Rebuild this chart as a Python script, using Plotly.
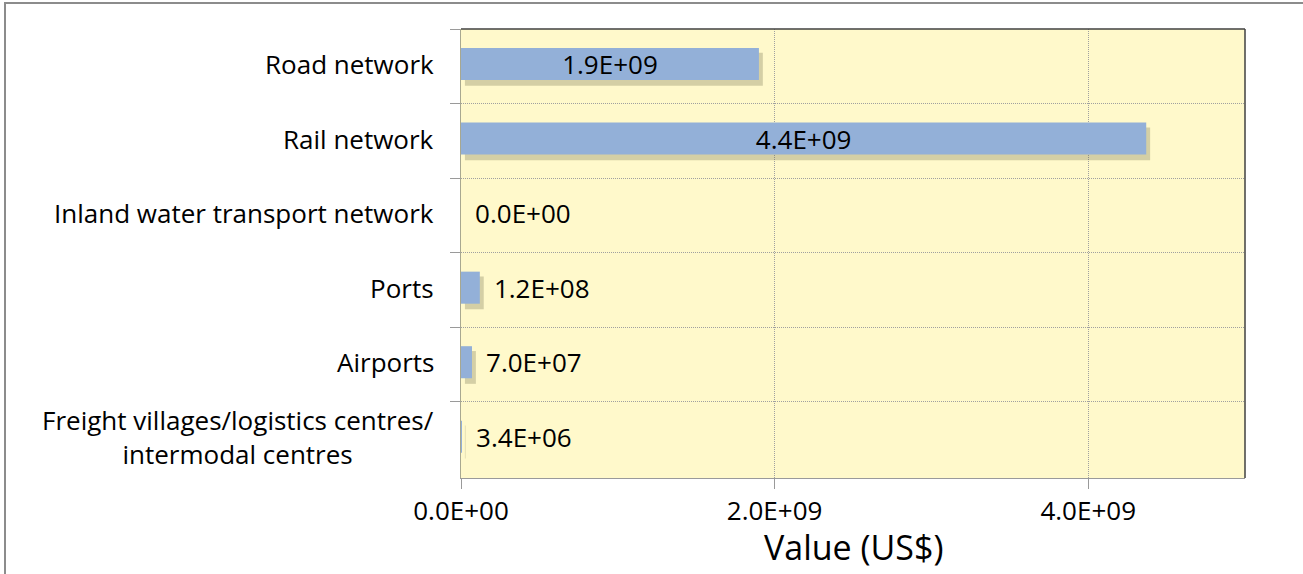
import plotly.graph_objects as go

categories = ["Road network", "Rail network", "Inland water transport network",
              "Ports", "Airports", "Freight villages/logistics centres/<br>intermodal centres"]
values = [1.9e9, 4.37e9, 0.0, 1.2e8, 7.0e7, 3.4e6]
value_labels = ["1.9E+09", "4.4E+09", "0.0E+00", "1.2E+08", "7.0E+07", "3.4E+06"]
x_tickvals = [0, 2e9, 4e9]
x_ticktext = ["0.0E+00", "2.0E+09", "4.0E+09"]
x_title = "Value (US$)"

FONT = "Open Sans, Liberation Sans, sans-serif"
W, H = 1303, 574
ML, MR, MT, MB = 461, 58, 29, 96
pw, ph = W - ML - MR, H - MT - MB

positions = ["inside" if v > 1e9 else "outside" for v in values]
texts = [t if p == "inside" else " \u2009" + t for t, p in zip(value_labels, positions)]

fig = go.Figure()
# soft shadow under bars
fig.add_trace(go.Bar(
    y=categories, x=values, orientation="h", base=0.025e9,
    width=0.44, offset=-0.18,
    marker=dict(color="rgba(100,100,70,0.28)", line=dict(width=0)),
    hoverinfo="skip", showlegend=False))
fig.add_trace(go.Bar(
    y=categories, x=values, orientation="h",
    width=0.43, offset=-0.245,
    marker=dict(color="#93B0D8", line=dict(width=0)),
    text=texts, textposition=positions, insidetextanchor="middle",
    constraintext="none",
    textfont=dict(family=FONT, size=26, color="#000000"),
    cliponaxis=False, showlegend=False))

# category labels (centered multi-line)
for c in categories:
    fig.add_annotation(x=0, xref="paper", y=c, yref="y", text=c,
                       xanchor="right", yanchor="middle", align="center",
                       xshift=-25, yshift=2, showarrow=False,
                       font=dict(family=FONT, size=26, color="#000000"))

# axis title
fig.add_annotation(x=0.5, xref="paper", y=0, yref="paper", text=x_title,
                   xanchor="center", yanchor="middle", yshift=-69, showarrow=False,
                   font=dict(family=FONT, size=34, color="#000000"))

# outer frame
fig.add_shape(type="rect", xref="paper", yref="paper",
              x0=(5 - ML) / pw, x1=(W + 5 - ML) / pw,
              y0=1 - (H + 5 - MT) / ph, y1=1 - (3 - MT) / ph,
              line=dict(color="#8C8C8C", width=2), fillcolor="rgba(0,0,0,0)", layer="below")

fig.update_layout(
    width=W, height=H,
    margin=dict(l=ML, r=MR, t=MT, b=MB),
    paper_bgcolor="white", plot_bgcolor="#FFF9CB",
    barmode="overlay",
    font=dict(family=FONT, size=26, color="#000000"),
    xaxis=dict(range=[0, 5e9], tickvals=x_tickvals, ticktext=x_ticktext,
               ticks="outside", ticklen=10, tickcolor="#9A9A9A",
               showgrid=True, gridcolor="#A0A0A0", griddash="1px,1px", gridwidth=1,
               showline=True, linecolor="#9A9A9A", linewidth=1, mirror=False,
               zeroline=False,
               tickfont=dict(family=FONT, size=26)),
    yaxis=dict(autorange="reversed", tickson="boundaries", ticks="outside", ticklen=10,
               tickcolor="#9A9A9A", showticklabels=False,
               showgrid=True, gridcolor="#A0A0A0", griddash="1px,1px", gridwidth=1,
               showline=True, linecolor="#A8A890", linewidth=1, zeroline=False),
)
# dark top/right plot border
fig.add_shape(type="line", xref="paper", yref="paper", x0=0, x1=1, y0=1, y1=1,
              line=dict(color="#404040", width=1.5))
fig.add_shape(type="line", xref="paper", yref="paper", x0=1, x1=1, y0=0, y1=1,
              line=dict(color="#404040", width=1.5))

fig.write_html("out.html", config={"displayModeBar": False},
               post_script="document.body.style.margin='0';")
